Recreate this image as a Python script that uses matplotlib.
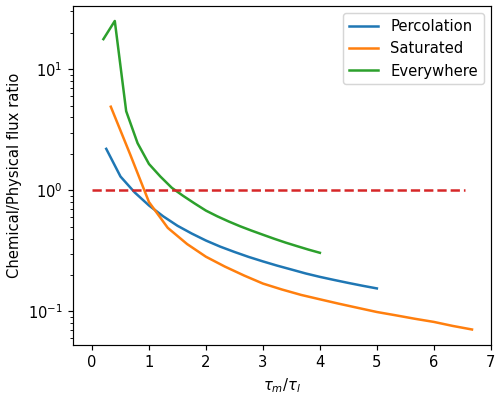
import matplotlib.pyplot as plt

# Percolation
perc_x = [0.25, 0.5, 0.75, 1.0, 1.25, 1.5, 1.75, 2.0, 2.25, 2.5, 2.75, 3.0,
          3.25, 3.5, 3.75, 4.0, 4.25, 4.5, 4.75, 5.0]
perc_y = [2.2, 1.3, 0.96, 0.75, 0.61, 0.51, 0.44, 0.385, 0.343, 0.31, 0.282, 0.259,
          0.239, 0.222, 0.206, 0.193, 0.182, 0.172, 0.163, 0.155]

# Saturated
sat_x = [0.33, 0.67, 1.0, 1.33, 1.67, 2.0, 2.33, 2.67, 3.0, 3.33, 3.67, 4.0,
         4.33, 4.67, 5.0, 5.33, 5.67, 6.0, 6.33, 6.67]
sat_y = [4.9, 1.98, 0.80, 0.49, 0.36, 0.283, 0.235, 0.198, 0.17, 0.152, 0.137, 0.126,
         0.116, 0.107, 0.099, 0.093, 0.087, 0.082, 0.076, 0.071]

# Everywhere
ever_x = [0.2, 0.4, 0.6, 0.8, 1.0, 1.2, 1.4, 1.6, 1.8, 2.0, 2.2, 2.4, 2.6, 2.8,
          3.0, 3.2, 3.4, 3.6, 3.8, 4.0]
ever_y = [17.7, 25.0, 4.5, 2.45, 1.65, 1.3, 1.05, 0.90, 0.78, 0.68, 0.61, 0.553,
          0.505, 0.465, 0.43, 0.398, 0.37, 0.346, 0.324, 0.305]

# reference line
ref_x = [0, 6.55]
ref_y = [1, 1]

dpi = 106
fig, ax = plt.subplots(figsize=(500 / dpi, 396 / dpi), dpi=dpi)
fig.subplots_adjust(left=0.146, right=0.982, top=0.986, bottom=0.129)

ax.plot(perc_x, perc_y, label="Percolation", lw=1.7)
ax.plot(sat_x, sat_y, label="Saturated", lw=1.7)
ax.plot(ever_x, ever_y, label="Everywhere", lw=1.7)
ax.plot(ref_x, ref_y, "--", color="C3", lw=1.7)

ax.set_yscale("log")
ax.set_xlabel(r"$\tau_m/\tau_l$")
ax.set_ylabel("Chemical/Physical flux ratio")
ax.legend(loc="upper right")

fig.savefig("out.png", dpi=dpi)
